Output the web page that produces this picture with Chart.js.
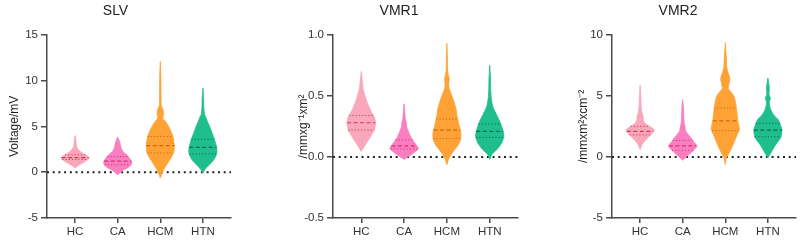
<!DOCTYPE html>
<html>
<head>
<meta charset="utf-8">
<script src="https://cdn.jsdelivr.net/npm/chart.js@4.4.1/dist/chart.umd.min.js"></script>
<style>
  html, body { margin: 0; padding: 0; background: #fff; }
  body { width: 800px; height: 242px; position: relative; overflow: hidden; }
  canvas { position: absolute; top: 0; }
</style>
</head>
<body>
<canvas id="slv" width="265" height="242" style="left:0px"></canvas>
<canvas id="vmr1" width="250" height="242" style="left:280px"></canvas>
<canvas id="vmr2" width="240" height="242" style="left:560px"></canvas>
<script>
// ---- data ----
const categories = ['HC', 'CA', 'HCM', 'HTN'];

// violin outlines: values (bottom -> top) and relative width at each value
const slvY = [
    [0.45, 0.7, 0.9, 1.1, 1.3, 1.55, 1.75, 2.0, 2.3, 2.6, 3.0, 3.5, 4.0],
    [-0.3, 0.0, 0.3, 0.6, 0.9, 1.1, 1.4, 1.7, 2.0, 2.2, 2.5, 2.8, 3.2, 3.5, 3.85],
    [-0.65, -0.2, 0.3, 0.8, 1.3, 1.8, 2.3, 2.9, 3.5, 4.0, 4.6, 5.1, 5.5, 5.9, 6.3, 6.8, 7.2, 7.8, 9.0, 10.5, 12.1],
    [-0.1, 0.3, 0.8, 1.3, 1.8, 2.25, 2.75, 3.3, 3.9, 4.5, 5.0, 5.5, 5.9, 6.3, 7.0, 8.0, 9.2]
];
const slvW = [
    [0, 0.2, 0.42, 0.65, 0.85, 1.0, 0.88, 0.62, 0.35, 0.17, 0.08, 0.06, 0],
    [0, 0.2, 0.5, 0.82, 0.98, 1.0, 0.9, 0.75, 0.58, 0.4, 0.28, 0.22, 0.16, 0.1, 0],
    [0, 0.1, 0.25, 0.45, 0.65, 0.85, 0.97, 1.0, 0.95, 0.88, 0.72, 0.55, 0.38, 0.18, 0.22, 0.2, 0.08, 0.06, 0.05, 0.04, 0],
    [0, 0.15, 0.45, 0.75, 0.93, 1.0, 0.97, 0.88, 0.75, 0.6, 0.48, 0.33, 0.24, 0.12, 0.07, 0.05, 0]
];
const slvQuart = [[1.4, 1.6, 1.9], [0.8, 1.2, 1.7], [2.1, 2.9, 3.9], [2.0, 2.7, 3.6]];

const vmr1Y = [
    [0.045, 0.08, 0.11, 0.14, 0.17, 0.22, 0.26, 0.29, 0.32, 0.35, 0.41, 0.46, 0.5, 0.56, 0.62, 0.7],
    [-0.02, 0.0, 0.03, 0.07, 0.1, 0.13, 0.17, 0.21, 0.25, 0.28, 0.31, 0.36, 0.435],
    [-0.063, -0.01, 0.045, 0.09, 0.13, 0.175, 0.22, 0.25, 0.29, 0.33, 0.39, 0.47, 0.54, 0.58, 0.64, 0.7, 0.8, 0.93],
    [-0.02, 0.02, 0.06, 0.115, 0.17, 0.21, 0.26, 0.3, 0.33, 0.37, 0.41, 0.48, 0.55, 0.65, 0.75]
];
const vmr1W = [
    [0, 0.18, 0.35, 0.52, 0.68, 0.92, 1.0, 1.0, 0.95, 0.8, 0.55, 0.38, 0.27, 0.13, 0.08, 0],
    [0, 0.25, 0.65, 1.0, 0.85, 0.65, 0.45, 0.3, 0.18, 0.16, 0.09, 0.06, 0],
    [0, 0.15, 0.45, 0.75, 0.93, 1.0, 0.95, 0.88, 0.8, 0.72, 0.65, 0.45, 0.22, 0.13, 0.16, 0.06, 0.04, 0],
    [0, 0.15, 0.5, 0.85, 1.0, 0.95, 0.82, 0.68, 0.55, 0.38, 0.22, 0.11, 0.07, 0.05, 0]
];
const vmr1Quart = [[0.22, 0.28, 0.34], [0.065, 0.09, 0.14], [0.15, 0.22, 0.31], [0.16, 0.21, 0.27]];

const vmr2Y = [
    [0.6, 0.9, 1.14, 1.4, 1.7, 1.95, 2.23, 2.5, 2.8, 3.1, 3.3, 3.55, 4.0, 4.8, 5.9],
    [-0.28, 0.05, 0.46, 0.87, 1.1, 1.28, 1.55, 1.8, 2.1, 2.4, 2.7, 3.2, 4.0, 4.7],
    [-0.63, -0.1, 0.33, 1.0, 1.7, 2.3, 2.9, 3.4, 3.9, 4.4, 4.95, 5.3, 5.6, 6.0, 6.3, 6.6, 6.9, 7.4, 8.2, 9.37],
    [-0.08, 0.46, 1.0, 1.55, 1.9, 2.23, 2.6, 3.05, 3.3, 3.6, 4.0, 4.5, 4.8, 5.1, 5.7, 6.46]
];
const vmr2W = [
    [0, 0.1, 0.22, 0.42, 0.65, 0.88, 1.0, 0.68, 0.32, 0.22, 0.22, 0.15, 0.08, 0.06, 0],
    [0, 0.3, 0.7, 1.0, 0.9, 0.75, 0.6, 0.42, 0.22, 0.18, 0.12, 0.08, 0.06, 0],
    [0, 0.08, 0.28, 0.55, 0.8, 1.0, 0.9, 0.85, 0.8, 0.74, 0.62, 0.42, 0.22, 0.27, 0.32, 0.3, 0.2, 0.1, 0.07, 0],
    [0, 0.28, 0.55, 0.9, 0.98, 1.0, 0.9, 0.74, 0.52, 0.32, 0.16, 0.1, 0.18, 0.08, 0.1, 0]
];
const vmr2Quart = [[1.8, 2.1, 2.5], [0.55, 0.9, 1.35], [2.15, 2.95, 4.0], [1.65, 2.2, 2.75]];

const slvTicks = [-5, 0, 5, 10, 15];
const vmr1Ticks = [-0.5, 0.0, 0.5, 1.0];
const vmr2Ticks = [-5, 0, 5, 10];

// ---- styles ----
const fillColors = ['#F9A7BA', '#F97FC0', '#FFA236', '#1EBF8C'];
const lineColors = ['#E2344E', '#DE2F72', '#C96A12', '#0B6A4E'];
const X_MIN = -0.66, X_MAX = 3.66;
const HALF = 0.33; // max half width of a violin, in category units

Chart.defaults.font.family = "'Liberation Sans', Arial, sans-serif";
Chart.defaults.color = '#333';

function widthAt(ys, ws, v) {
    for (let k = 0; k < ys.length - 1; k++) {
        if (v >= ys[k] && v <= ys[k + 1]) {
            const t = (v - ys[k]) / (ys[k + 1] - ys[k]);
            return ws[k] + t * (ws[k + 1] - ws[k]);
        }
    }
    return 0;
}

function buildDatasets(ys, ws, quarts) {
    const sets = [];
    categories.forEach((c, i) => {
        // quartile + median lines on top
        quarts[i].forEach((q, j) => {
            const w = widthAt(ys[i], ws[i], q) * HALF;
            sets.push({
                data: [{ x: i - w, y: q }, { x: i + w, y: q }],
                showLine: true,
                borderColor: lineColors[i],
                borderWidth: j === 1 ? 1.2 : 1,
                borderDash: j === 1 ? [4, 2.5] : [1.2, 2],
                pointRadius: 0,
                order: 0
            });
        });
        const right = ys[i].map((y, k) => ({ x: i + ws[i][k] * HALF, y }));
        const left = ys[i].map((y, k) => ({ x: i - ws[i][k] * HALF, y })).reverse();
        sets.push({
            data: right.concat(left),
            showLine: true,
            fill: 'shape',
            backgroundColor: fillColors[i],
            borderColor: fillColors[i],
            borderWidth: 0.8,
            tension: 0.25,
            pointRadius: 0,
            order: 1
        });
    });
    // dotted zero reference line
    sets.push({
        data: [{ x: X_MIN, y: 0 }, { x: X_MAX, y: 0 }],
        showLine: true,
        borderColor: '#222',
        borderWidth: 2,
        borderDash: [2, 3.7],
        pointRadius: 0,
        order: 2
    });
    return sets;
}

function makePanel(id, title, yTitle, ys, ws, quarts, yTicks, opt) {
    new Chart(document.getElementById(id), {
        type: 'scatter',
        data: { datasets: buildDatasets(ys, ws, quarts) },
        options: {
            responsive: false,
            animation: false,
            events: [],
            layout: { padding: { left: 0, right: opt.right, top: 0, bottom: 0 } },
            plugins: {
                legend: { display: false },
                tooltip: { enabled: false },
                title: {
                    display: true,
                    text: title,
                    color: '#222',
                    font: { size: 14, weight: 'normal' },
                    padding: { top: 3, bottom: 15 }
                }
            },
            scales: {
                x: {
                    type: 'linear',
                    min: X_MIN,
                    max: X_MAX,
                    afterBuildTicks: s => { s.ticks = categories.map((c, i) => ({ value: i })); },
                    afterFit: s => { s.height = 24; },
                    ticks: {
                        callback: v => categories[v],
                        color: '#333',
                        font: { size: 11.5 },
                        padding: 2,
                        maxRotation: 0
                    },
                    grid: { drawOnChartArea: false, drawTicks: true, tickLength: 5, color: '#4a4a4a', lineWidth: 1.5 },
                    border: { display: true, color: '#4a4a4a', width: 1.5 }
                },
                y: {
                    type: 'linear',
                    min: yTicks[0],
                    max: yTicks[yTicks.length - 1],
                    afterBuildTicks: s => { s.ticks = yTicks.map(v => ({ value: v })); },
                    afterFit: s => { s.width = opt.yw; },
                    ticks: {
                        callback: v => opt.dec ? v.toFixed(opt.dec) : String(v),
                        color: '#333',
                        font: { size: 11.5 },
                        padding: 3
                    },
                    grid: { drawOnChartArea: false, drawTicks: true, tickLength: 6, color: '#4a4a4a', lineWidth: 1.5 },
                    border: { display: true, color: '#4a4a4a', width: 1.5 },
                    title: {
                        display: true,
                        text: yTitle,
                        color: '#222',
                        font: { size: 12 },
                        padding: { top: opt.tp, bottom: 0 }
                    }
                }
            }
        }
    });
}

makePanel('slv', 'SLV', 'Voltage/mV', slvY, slvW, slvQuart, slvTicks, { yw: 47, right: 34, tp: 7, dec: 0 });
makePanel('vmr1', 'VMR1', '/mmxg\u207B\u00B9xm\u00B2', vmr1Y, vmr1W, vmr1Quart, vmr1Ticks, { yw: 53, right: 12, tp: 16, dec: 1 });
makePanel('vmr2', 'VMR2', '/mmxm\u00B2xcm\u207B\u00B2', vmr2Y, vmr2W, vmr2Quart, vmr2Ticks, { yw: 52, right: 4, tp: 16, dec: 0 });
</script>
</body>
</html>
